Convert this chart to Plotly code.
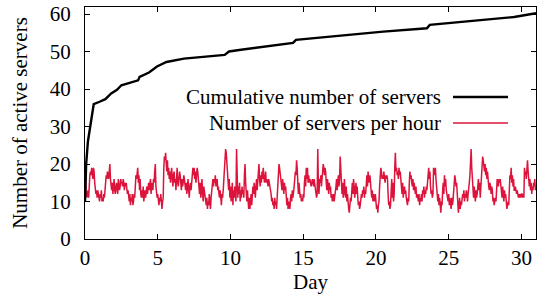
import numpy as np
import plotly.graph_objects as go

# ---- data ----
# cumulative number of distinct servers: (day, count) breakpoints
cum_days = [0.0, 0.08, 0.2, 0.35, 0.46, 0.6, 1.0, 1.4, 1.8, 2.2, 2.5, 3.5, 3.65,
            3.75, 4.4, 4.95, 5.6, 6.8, 9.6, 9.9, 10.6, 14.3, 14.5, 20.5, 23.5,
            23.7, 29.5, 31.0]
cum_values = [10, 20, 26, 30, 33, 36, 36.6, 37.3, 38.8, 39.8, 41, 42, 42.3,
              43.2, 44.4, 46, 47.2, 48.1, 49.1, 50, 50.4, 52.3, 53.1, 55.3, 56.2,
              57.1, 59.2, 60.2]

# number of servers per hour, hourly samples (hours 0-249, 250-497, 498-743)
per_hour_a = [10, 17, 12, 11, 12, 13, 11, 16, 17, 18, 17, 19, 18, 16, 19, 18, 15,
              14, 12, 13, 11, 13, 12, 11, 10, 12, 11, 13, 10, 11, 10, 12, 11, 13,
              15, 17, 16, 18, 17, 16, 18, 20, 16, 14, 13, 15, 12, 14, 16, 13, 12,
              14, 15, 13, 12, 16, 15, 13, 14, 16, 15, 15, 14, 16, 15, 13, 15, 14,
              15, 13, 12, 13, 11, 10, 12, 9, 11, 10, 12, 9, 10, 12, 11, 14, 17, 16,
              18, 19, 15, 17, 13, 16, 12, 11, 13, 11, 14, 10, 12, 13, 11, 12, 14,
              12, 13, 15, 13, 14, 16, 12, 15, 14, 13, 16, 15, 18, 20, 14, 13, 11,
              12, 10, 9, 11, 10, 12, 9, 8, 10, 11, 19, 22, 21, 23, 20, 18, 21, 17,
              19, 16, 18, 15, 17, 19, 16, 14, 17, 18, 15, 16, 13, 17, 19, 15, 14,
              16, 18, 17, 15, 13, 16, 14, 15, 17, 16, 14, 13, 15, 12, 14, 16, 13,
              11, 14, 15, 13, 16, 18, 19, 17, 19, 16, 18, 15, 17, 19, 18, 16, 14,
              12, 15, 11, 13, 16, 12, 10, 14, 13, 11, 10, 9, 11, 8, 10, 9, 12, 10,
              8, 11, 13, 15, 16, 14, 16, 15, 17, 14, 15, 16, 13, 14, 12, 11, 13, 10,
              9, 12, 11, 13, 16, 19, 21, 24, 23, 20, 17, 15, 13, 16, 11, 14, 10, 12,
              15, 9, 13, 11, 14, 12, 10]
per_hour_b = [24, 13, 11, 14, 12, 15, 10, 13, 11, 14, 12, 13, 11, 17, 20, 15, 12,
              10, 13, 9, 8, 11, 8, 10, 12, 9, 11, 14, 12, 15, 13, 11, 14, 16, 13,
              15, 17, 20, 16, 14, 17, 15, 18, 16, 19, 17, 15, 16, 18, 15, 16, 15,
              14, 16, 15, 15, 14, 12, 10, 11, 9, 10, 8, 11, 9, 10, 8, 11, 15, 18,
              20, 19, 17, 16, 15, 13, 16, 14, 12, 15, 13, 14, 10, 9, 11, 8, 10, 9,
              8, 11, 12, 10, 13, 11, 12, 14, 16, 18, 17, 21, 19, 14, 12, 15, 13,
              11, 12, 10, 11, 10, 12, 11, 15, 17, 14, 19, 16, 19, 15, 17, 15, 16,
              15, 14, 15, 16, 15, 14, 16, 15, 14, 13, 11, 12, 24, 14, 12, 16, 15,
              17, 14, 16, 18, 20, 19, 17, 19, 18, 15, 13, 16, 14, 12, 15, 13, 14,
              11, 12, 10, 11, 12, 10, 11, 12, 14, 16, 13, 15, 17, 14, 16, 22, 18,
              14, 12, 15, 11, 13, 16, 12, 11, 14, 10, 12, 9, 8, 7, 9, 11, 10, 13,
              15, 12, 16, 14, 11, 13, 15, 12, 14, 11, 9, 10, 8, 9, 10, 12, 11, 13,
              12, 14, 11, 13, 12, 15, 17, 14, 18, 16, 15, 17, 14, 12, 11, 13, 10,
              12, 11, 10, 12, 9, 8, 9, 7, 9, 10, 14, 17, 19, 18, 16, 17, 16, 18,
              17, 15, 17, 16]
per_hour_c = [17, 16, 12, 9, 10, 8, 9, 13, 16, 11, 15, 10, 12, 19, 23, 18, 19, 17,
              18, 16, 19, 17, 18, 16, 14, 12, 15, 11, 13, 14, 12, 13, 11, 10, 9,
              11, 10, 15, 18, 16, 17, 15, 14, 16, 13, 15, 13, 12, 14, 11, 12, 11,
              10, 12, 9, 11, 10, 12, 10, 13, 12, 14, 11, 13, 12, 14, 13, 15, 17,
              19, 16, 18, 14, 12, 13, 11, 12, 19, 18, 17, 19, 16, 14, 12, 10, 12,
              9, 11, 8, 7, 10, 9, 13, 15, 12, 17, 14, 16, 13, 12, 11, 10, 12, 9,
              11, 10, 8, 11, 9, 10, 12, 15, 17, 16, 14, 15, 13, 10, 7, 9, 11, 8,
              10, 9, 11, 12, 11, 13, 10, 12, 11, 13, 12, 10, 12, 13, 15, 17, 20,
              24, 19, 15, 13, 11, 14, 12, 10, 13, 11, 12, 14, 16, 13, 15, 11, 14,
              18, 20, 22, 21, 19, 18, 20, 17, 19, 16, 18, 15, 14, 13, 15, 14, 12,
              14, 13, 10, 11, 9, 10, 11, 10, 15, 16, 15, 14, 16, 15, 16, 14, 13,
              11, 14, 12, 10, 13, 11, 12, 9, 8, 9, 10, 9, 14, 17, 16, 19, 15, 17,
              14, 16, 13, 13, 14, 13, 12, 13, 12, 11, 12, 11, 12, 11, 12, 12, 11,
              12, 11, 19, 17, 18, 16, 19, 21, 18, 16, 14, 16, 13, 15, 12, 14, 13,
              15, 14, 16, 13]

per_hour = per_hour_a + per_hour_b + per_hour_c
hour_days = np.arange(len(per_hour)) / 24.0

x_ticks = [0, 5, 10, 15, 20, 25, 30]
y_ticks = [0, 10, 20, 30, 40, 50, 60]

legend_labels = ["Cumulative number of servers", "Number of servers per hour"]
colors = ["#000000", "#dc143c"]

FONT = "Liberation Serif"
FS = 21

fig = go.Figure()
fig.add_trace(go.Scatter(x=hour_days, y=per_hour, mode="lines",
                         line=dict(color=colors[1], width=1.5),
                         name=legend_labels[1], showlegend=False))
fig.add_trace(go.Scatter(x=cum_days, y=cum_values, mode="lines",
                         line=dict(color=colors[0], width=2.4),
                         name=legend_labels[0], showlegend=False))

# gnuplot-style key: right-aligned text with sample line to its right
key_y = [0.612, 0.5]
for lbl, col, ky in zip(legend_labels, colors, key_y):
    fig.add_annotation(x=0.794, y=ky, xref="paper", yref="paper", text=lbl,
                       showarrow=False, xanchor="right", yanchor="middle",
                       font=dict(family=FONT, size=FS, color="black"))
    fig.add_shape(type="line", xref="paper", yref="paper",
                  x0=0.816, x1=0.938, y0=ky, y1=ky,
                  line=dict(color=col, width=2.4 if col == "#000000" else 1.5))

axis_common = dict(showline=True, linecolor="black", linewidth=1, mirror="allticks",
                   ticks="inside", ticklen=5, tickcolor="black", showgrid=False,
                   zeroline=False, automargin=False, ticklabeloverflow="allow",
                   tickfont=dict(family=FONT, size=FS, color="black"))

fig.update_xaxes(range=[0, 31], tickvals=x_ticks,
                 title=dict(text="Day", font=dict(family=FONT, size=FS, color="black"),
                            standoff=4), **axis_common)
fig.update_yaxes(range=[0, 61.87], tickvals=y_ticks,
                 title=dict(text="Number of active servers",
                            font=dict(family=FONT, size=FS, color="black"), standoff=16),
                 ticklabelstandoff=9, **axis_common)

fig.update_layout(width=548, height=299, margin=dict(l=85, r=12, t=7, b=60),
                  plot_bgcolor="white", paper_bgcolor="white",
                  font=dict(family=FONT, size=FS, color="black"))

# remove the default 8px page margin so the figure fills the window exactly
fig.write_html("out.html", config={"displayModeBar": False, "staticPlot": True},
               post_script="document.body.style.margin='0';document.body.style.overflow='hidden';")
